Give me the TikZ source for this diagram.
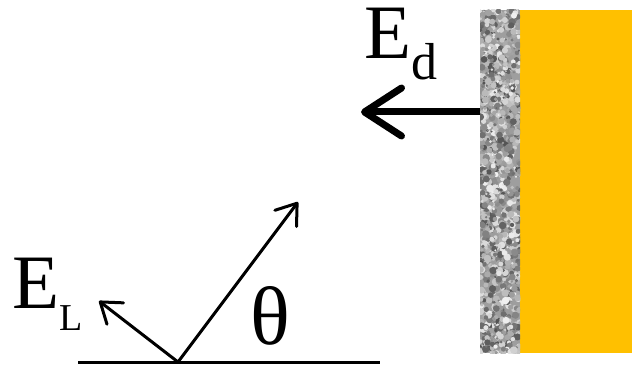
\documentclass[tikz,border=0pt]{standalone}
\usepackage{fontspec}
\setmainfont{Liberation Serif}
\newfontfamily\lblfont{Liberation Serif}
\usetikzlibrary{arrows.meta}
\definecolor{gold}{RGB}{255,192,0}

\begin{document}
\begin{tikzpicture}[x=1pt, y=-1pt,
  lbl/.style={anchor=base west, inner sep=0pt, font=\lblfont\fontsize{77}{77}\selectfont},
  thin arr/.style={-{Straight Barb[length=19pt, width=27pt, round]}, line width=3pt},
  thick arr/.style={-{Straight Barb[length=37pt, width=48pt, round]}, line width=7pt}
]
  \useasboundingbox (0,0) rectangle (636,366);

  % metal plate and rough layer
  \fill[gold] (520,10) rectangle (632,353);
  \begin{scope}
    \clip (480,10) rectangle (520,353);
    \fill[black!38] (480,10) rectangle (520,353);
    \pgfmathsetseed{11}
    \foreach \k in {1,...,1400} {
      \pgfmathsetmacro\px{480+40*rnd}
      \pgfmathsetmacro\py{10+343*rnd}
      \pgfmathsetmacro\rr{1+2.8*rnd}
      \pgfmathsetmacro\g{int(6+62*rnd)}
      \fill[black!\g] (\px,\py) circle[radius=\rr];
    }
  \end{scope}

  % emitted field
  \coordinate (src)  at (480,112);
  \coordinate (dtip) at (361,112);
  \draw[thick arr] (src) -- (dtip);
  \node[lbl] (ed) at (364,59) {E\raisebox{-21pt}{\fontsize{52}{52}\selectfont d}};

  % surface and incident beam
  \coordinate (gl) at (78,362);
  \coordinate (gr) at (380,362);
  \coordinate (o)  at (178,362);
  \coordinate (beam) at (298,202);
  \coordinate (ltip) at (99,301);
  \draw[line width=3pt] (gl) -- (gr);
  \draw[thin arr] (o) -- (beam);
  \draw[thin arr] (o) -- (ltip);
  \node[lbl] (el) at (12,308) {E\raisebox{-22pt}{\fontsize{38}{38}\selectfont L}};
  \node[lbl, font=\lblfont\fontsize{83}{83}\selectfont] (th) at (250,344) {θ};
\end{tikzpicture}
\end{document}
